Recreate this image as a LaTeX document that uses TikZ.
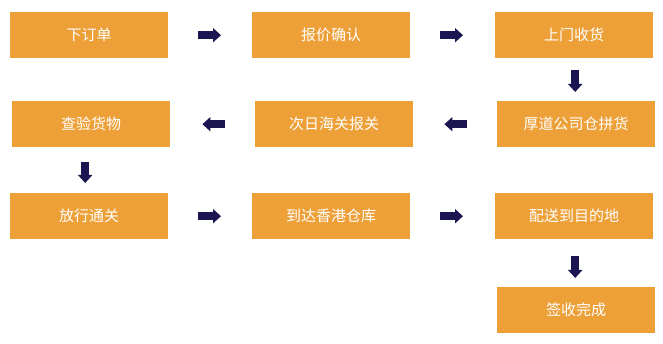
\documentclass[tikz,border=0pt]{standalone}
\usepackage{fontspec}
\newfontfamily\cjk{Noto Sans CJK SC}
\usetikzlibrary{arrows.meta,calc}
\definecolor{boxor}{HTML}{EEA038}
\definecolor{arrnavy}{HTML}{1B1551}
\tikzset{
  stepbox/.style={fill=boxor, draw=none, minimum width=158pt, minimum height=46pt, inner sep=0pt,
    text=white, font=\cjk\fontsize{15pt}{18pt}\selectfont, anchor=north west},
  blk/.style={draw=arrnavy, line width=8pt, -{Triangle[length=8pt,width=14pt]}}
}
\begin{document}
\begin{tikzpicture}[x=1pt,y=-1pt]
\useasboundingbox (0,0) rectangle (663,344);
\node[stepbox] (b1) at (10,12) {下订单};
\node[stepbox] (b2) at (252,12) {报价确认};
\node[stepbox] (b3) at (495,12) {上门收货};
\node[stepbox] (b4) at (12,101) {查验货物};
\node[stepbox] (b5) at (255,101) {次日海关报关};
\node[stepbox] (b6) at (497,101) {厚道公司仓拼货};
\node[stepbox] (b7) at (10,193) {放行通关};
\node[stepbox] (b8) at (252,193) {到达香港仓库};
\node[stepbox] (b9) at (495,193) {配送到目的地};
\node[stepbox] (b10) at (497,287) {签收完成};
\coordinate (d1) at ($(b3.south)+(1,0)$);
\coordinate (d2) at ($(b4.south)+(-6,0)$);
\coordinate (d3) at ($(b9.south)+(1,0)$);
% row 1
\draw[blk, shorten <=30pt, shorten >=31pt] (b1.east) -- (b2.west);
\draw[blk, shorten <=30pt, shorten >=32pt] (b2.east) -- (b3.west);
% down
\draw[blk, shorten <=12pt, shorten >=9pt] (d1) -- (d1 |- b6.north);
% row 2 (leftwards)
\draw[blk, shorten <=30pt, shorten >=31pt] (b6.west) -- (b5.east);
\draw[blk, shorten <=30pt, shorten >=32pt] (b5.west) -- (b4.east);
% down
\draw[blk, shorten <=15pt, shorten >=10pt] (d2) -- (d2 |- b7.north);
% row 3
\draw[blk, shorten <=30pt, shorten >=31pt] (b7.east) -- (b8.west);
\draw[blk, shorten <=30pt, shorten >=32pt] (b8.east) -- (b9.west);
% down
\draw[blk, shorten <=17pt, shorten >=9pt] (d3) -- (d3 |- b10.north);
\end{tikzpicture}
\end{document}
